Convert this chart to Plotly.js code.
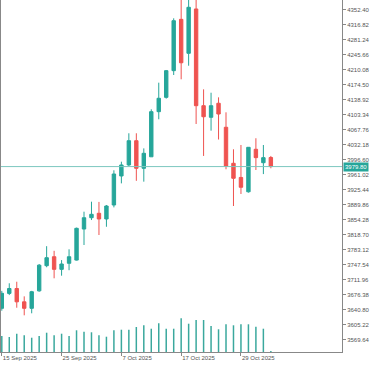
<!DOCTYPE html>
<html>
<head>
<meta charset="utf-8">
<script src="https://cdn.plot.ly/plotly-3.0.1.min.js"></script>
<style>html,body{margin:0;padding:0;background:#fff;}#chart{width:375px;height:366px;}</style>
</head>
<body>
<div id="chart"></div>
<script>
// trading-day index 0..36 (15 Sep 2025 .. 4 Nov 2025)
const dayIndex = [0,1,2,3,4,5,6,7,8,9,10,11,12,13,14,15,16,17,18,19,20,21,22,23,24,25,26,27,28,29,30,31,32,33,34,35,36];
const openP  = [3643.6,3679.0,3690.6,3659.0,3643.6,3685.0,3744.7,3766.0,3736.0,3750.4,3758.0,3831.7,3858.5,3869.0,3855.5,3888.7,3957.5,3983.6,4041.2,3975.7,4003.0,4110.0,4144.0,4207.3,4329.0,4248.5,4353.6,4124.2,4096.7,4130.0,4073.0,3987.6,3954.0,3920.0,4020.8,3989.0,4001.3];
const highP  = [3685.0,3703.0,3706.7,3672.0,3685.0,3748.7,3791.0,3780.0,3758.0,3783.6,3835.0,3872.8,3896.5,3896.0,3888.7,3971.0,3991.4,4058.8,4058.8,4023.0,4115.6,4178.8,4208.9,4331.5,4379.0,4381.0,4381.0,4163.0,4155.0,4144.0,4108.5,4020.8,4031.0,4026.0,4047.0,4031.0,4005.0];
const lowP   = [3638.0,3675.0,3645.0,3627.0,3631.8,3683.0,3741.0,3714.8,3721.0,3734.0,3757.0,3793.8,3853.0,3817.5,3837.0,3883.0,3940.0,3981.0,3946.0,3944.0,4003.0,4092.0,4141.0,4197.0,4186.8,4219.0,4080.8,4005.0,4065.0,4044.0,3973.4,3886.3,3914.8,3918.0,3971.7,3962.0,3975.7];
const closeP = [3679.2,3690.6,3659.0,3643.6,3683.0,3746.0,3763.7,3736.0,3748.7,3766.0,3833.4,3858.5,3866.6,3855.5,3886.3,3962.2,3983.6,4041.2,3975.7,4011.3,4110.0,4141.8,4207.3,4325.8,4226.0,4357.6,4124.2,4098.0,4124.2,4104.5,3981.0,3952.0,3930.7,4025.5,4001.0,4001.0,3979.8];
const tickVolume = [112000,105000,128000,117000,100000,112000,135000,117000,128000,112000,152000,142000,138000,117000,107000,152000,156000,156000,175000,187000,163000,201000,163000,163000,236000,198000,224000,224000,182000,159000,194000,187000,194000,194000,177000,163000,7000];
const dateTickIdx = [0, 8, 16, 24, 32];
const dateTickText = ['15 Sep 2025', '25 Sep 2025', '7 Oct 2025', '17 Oct 2025', '29 Oct 2025'];
const priceTicks = [3569.64,3605.22,3640.80,3676.38,3711.96,3747.54,3783.12,3818.70,3854.28,3889.86,3925.44,3961.02,3996.60,4032.18,4067.76,4103.34,4138.92,4174.50,4210.08,4245.66,4281.24,4316.82,4352.40];
const lastPrice = closeP[closeP.length - 1];

const up = '#26a69a', down = '#ef5350';

const volTrace = {
  type: 'bar', x: dayIndex, y: tickVolume, yaxis: 'y2',
  width: 0.2, marker: {color: '#3aa89d', line: {width: 0}},
  hoverinfo: 'skip'
};
const candles = {
  type: 'candlestick', x: dayIndex, open: openP, high: highP, low: lowP, close: closeP,
  increasing: {line: {color: up, width: 1}, fillcolor: up},
  decreasing: {line: {color: down, width: 1}, fillcolor: down},
  whiskerwidth: 0, hoverinfo: 'skip'
};

const layout = {
  width: 375, height: 366,
  margin: {l: 1, r: 33, t: 0, b: 14},
  paper_bgcolor: '#ffffff', plot_bgcolor: '#ffffff',
  showlegend: false,
  boxgap: 0.35,
  font: {family: 'Liberation Sans, Arial, sans-serif', size: 6, color: '#555'},
  xaxis: {
    type: 'linear', range: [-0.107, 45.52],
    rangeslider: {visible: false},
    tickmode: 'array', tickvals: dateTickIdx, ticktext: dateTickText,
    ticks: 'outside', ticklen: 3, tickcolor: '#888', tickwidth: 1,
    ticklabelposition: 'outside right',
    showline: true, linecolor: '#888', linewidth: 1,
    showgrid: false, zeroline: false,
    tickfont: {size: 6, color: '#555'}
  },
  yaxis: {
    side: 'right', range: [3540.0, 4374.9],
    tickmode: 'array', tickvals: priceTicks, ticktext: priceTicks.map(v => v.toFixed(2)),
    ticks: 'outside', ticklen: 3, tickcolor: '#888',
    showline: true, mirror: true, linecolor: '#888', linewidth: 1,
    showgrid: false, zeroline: false,
    tickfont: {size: 6, color: '#555'}
  },
  yaxis2: {overlaying: 'y', range: [0, 2464000], visible: false, fixedrange: true},
  shapes: [{
    type: 'line', xref: 'paper', x0: 0, x1: 1, yref: 'y', y0: lastPrice, y1: lastPrice,
    line: {color: '#7cc7bf', width: 1}
  }],
  annotations: [{
    xref: 'paper', x: 1, xanchor: 'left', xshift: 1,
    yref: 'y', y: lastPrice, yanchor: 'middle',
    text: lastPrice.toFixed(2), showarrow: false,
    bgcolor: up, borderpad: 1,
    font: {size: 6, color: '#ffffff'}
  }]
};

Plotly.newPlot('chart', [volTrace, candles], layout, {staticPlot: true, displayModeBar: false});
</script>
</body>
</html>
